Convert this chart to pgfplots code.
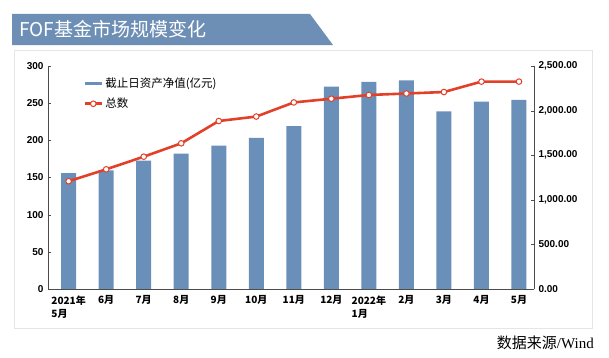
\documentclass[border=0pt]{standalone}
\usepackage{pgfplots}
\pgfplotsset{compat=1.18}
\usepackage{fontspec}
\setmainfont{Liberation Sans}
\newfontfamily\cjk{Noto Sans CJK SC}
\newfontfamily\serif{Liberation Serif}
\definecolor{barblue}{RGB}{106,143,184}
\definecolor{linered}{RGB}{226,64,40}
\definecolor{banner}{RGB}{109,143,182}
\begin{document}
\begin{tikzpicture}
\useasboundingbox (0pt,0pt) rectangle (609pt,357pt);
\draw[gray!20, line width=0.6pt] (14pt,29pt) rectangle (592pt,307pt);
\fill[banner] (12pt,312pt) -- (12pt,343pt) -- (310pt,343pt) -- (333pt,312pt) -- cycle;
\node[anchor=west, text=white, font=\cjk\fontsize{19}{19}\selectfont, inner sep=0] at (19pt,328pt) {FOF基金市场规模变化};
\node[anchor=east, inner sep=0, font=\fontsize{15}{15}\selectfont] at (594pt,14pt) {{\cjk 数据来源}{\serif /Wind}};

\begin{axis}[at={(48pt,68pt)}, anchor=south west, width=486pt, height=223pt, scale only axis,
  xmin=-0.55, xmax=12.4, ymin=0, ymax=2500,
  axis x line=none, axis y line*=right, axis line style={-, gray!60!black, line width=0.8pt},
  ytick={0,500,...,2500}, scaled y ticks=false,
  tick align=inside, major tick length=3pt, tick style={gray!60!black},
  /pgf/number format/.cd, fixed, fixed zerofill, precision=2, 1000 sep={,}, assume math mode=true,
  /pgfplots/.cd,
  yticklabel style={font=\bfseries\fontsize{10}{10}\selectfont, xshift=1pt},
  clip=false]
\addplot[ybar, bar width=15pt, fill=barblue, draw=none] coordinates {
(0,1298) (1,1330) (2,1440) (3,1518) (4,1607) (5,1693) (6,1827) (7,2269) (8,2321) (9,2340) (10,1990) (11,2101) (12,2120)};
\end{axis}

\begin{axis}[at={(48pt,68pt)}, anchor=south west, width=486pt, height=223pt, scale only axis,
  xmin=-0.55, xmax=12.4, ymin=0, ymax=300,
  axis x line*=bottom, axis y line*=left, axis line style={-, gray!60!black, line width=0.8pt},
  ytick={0,50,...,300}, xtick={0,...,12},
  xticklabels={{2021年\\5月},6月,7月,8月,9月,10月,11月,12月,{2022年\\1月},2月,3月,4月,5月},
  xticklabel style={font=\cjk\bfseries\fontsize{10}{13}\selectfont, align=left, anchor=north, yshift=-3pt},
  x tick style={draw=none},
  tick align=inside, major tick length=3pt, tick style={gray!60!black},
  /pgf/number format/assume math mode=true,
  yticklabel style={font=\bfseries\fontsize{10}{10}\selectfont, xshift=-1pt},
  legend style={at={(0.066,0.965)}, anchor=north west, draw=none, fill=none,
    font=\cjk\fontsize{11.5}{14}\selectfont, row sep=5pt},
  legend cell align=left,
  clip=false]
\addlegendimage{barblue, line width=3pt}
\addlegendentry{截止日资产净值(亿元)}
\addplot[linered, line width=2.6pt, mark=*, mark size=2.8pt, mark options={fill=white, draw=linered, line width=1pt}] coordinates {
(0,145) (1,161) (2,178) (3,196) (4,226) (5,232) (6,251) (7,256) (8,261) (9,263) (10,265) (11,279) (12,279)};
\addlegendentry{总数}
\end{axis}
\end{tikzpicture}
\end{document}
